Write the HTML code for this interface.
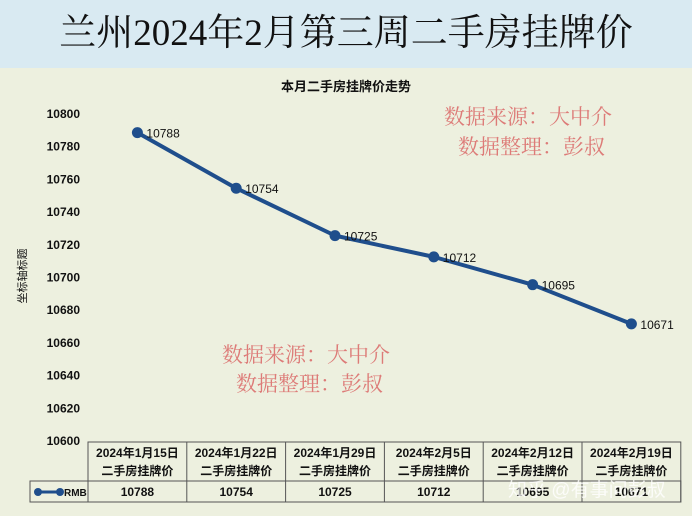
<!DOCTYPE html>
<html><head><meta charset="utf-8">
<style>
body{margin:0;width:692px;height:516px;overflow:hidden;background:#edf0df;font-family:"Liberation Sans","Noto Sans CJK SC",sans-serif;}
#titlebar{position:absolute;left:0;top:0;width:692px;height:68px;background:#d9eaf2;}
#title{position:absolute;left:0;top:9px;width:692px;text-align:center;font-family:"Liberation Serif","Noto Serif CJK SC",serif;font-size:37px;line-height:50px;color:#111;}
svg{position:absolute;left:0;top:0;}
</style></head><body>
<div id="titlebar"></div>
<div id="title">兰州2024年2月第三周二手房挂牌价</div>
<svg id="chart" width="692" height="516"></svg>
<script>
const categories=["2024年1月15日","2024年1月22日","2024年1月29日","2024年2月5日","2024年2月12日","2024年2月19日"];
const values=[10788,10754,10725,10712,10695,10671];
const yTicks=[10600,10620,10640,10660,10680,10700,10720,10740,10760,10780,10800];
const NS="http://www.w3.org/2000/svg";
const svg=document.getElementById('chart');
const yMin=10600,yMax=10800,yTop=113,yBot=440;
const colX0=88,colW=98.8;
function y(v){return yBot-(v-yMin)/(yMax-yMin)*(yBot-yTop);}
function x(i){return colX0+colW*(i+0.5);}
function mk(tag,attrs,text){const e=document.createElementNS(NS,tag);for(const k in attrs)e.setAttribute(k,attrs[k]);if(text!==undefined)e.textContent=text;svg.appendChild(e);return e;}
let t=mk('text',{x:346,y:91,'text-anchor':'middle','font-size':13,'font-weight':'bold',fill:'#111'},'本月二手房挂牌价走势');


yTicks.forEach(v=>{const e=mk('text',{x:80,y:y(v)+5,'text-anchor':'end','font-size':12,'font-weight':'bold',fill:'#111'},String(v));

});
t=mk('text',{x:0,y:0,transform:'translate(26,276) rotate(-90)','text-anchor':'middle','font-size':11,fill:'#111'},'坐标轴标题');


let d='';
values.forEach((v,i)=>{d+=(i?'L':'M')+x(i)+','+y(v);});
let p=mk('path',{d:d,fill:'none',stroke:'#1f4e8c','stroke-width':4,'stroke-linejoin':'round'});


values.forEach((v,i)=>{
 const c=mk('circle',{cx:x(i),cy:y(v),r:5.5,fill:'#1f4e8c'});
 
 
 const l=mk('text',{x:x(i)+9,y:y(v)+5,'font-size':12,fill:'#111'},String(v));
 
 
});
const tT=442,tM=481,tB=502,tL=30,tR=colX0+colW*6;
let g=mk('rect',{x:colX0,y:tT,width:colW*6,height:tB-tT,fill:'none',stroke:'#555','stroke-width':1});


let r=mk('rect',{x:tL,y:tM,width:tR-tL,height:tB-tM,fill:'none',stroke:'#555','stroke-width':1});


for(let i=1;i<6;i++){const ln=mk('line',{x1:colX0+colW*i,y1:tT,x2:colX0+colW*i,y2:tB,stroke:'#555'});

}
categories.forEach((c,i)=>{
 const a=mk('text',{x:x(i),y:tT+15,'text-anchor':'middle','font-size':12,'font-weight':'bold',fill:'#111'},c);
 
 
 const b=mk('text',{x:x(i),y:tT+33,'text-anchor':'middle','font-size':12,'font-weight':'bold',fill:'#111'},'二手房挂牌价');
 
 
 const v=mk('text',{x:x(i),y:tB-6,'text-anchor':'middle','font-size':12,'font-weight':'bold',fill:'#111'},String(values[i]));
 
 
});
let lk=mk('line',{x1:38,y1:492,x2:60,y2:492,stroke:'#1f4e8c','stroke-width':3});


[38,60].forEach(cx=>{const c=mk('circle',{cx:cx,cy:492,r:4,fill:'#1f4e8c'});});
let lt=mk('text',{x:64,y:496,'font-size':10,'font-weight':'bold',fill:'#111'},'RMB');


function wm(tx,ty,s,name){const e=mk('text',{x:tx,y:ty,'font-size':21,fill:'#dd7b78','font-family':'"Liberation Serif","Noto Serif CJK SC",serif'},s);}
wm(444,124,'数据来源：大中介','source-note');
wm(458,154,'数据整理：彭叔','author-note');
wm(222,362,'数据来源：大中介','source-note-2');
wm(236,391,'数据整理：彭叔','author-note-2');
let z=mk('text',{x:508,y:496,'font-size':19,fill:'#ffffff','fill-opacity':0.8},'知乎 @有事问彭叔');


</script>
</body></html>
